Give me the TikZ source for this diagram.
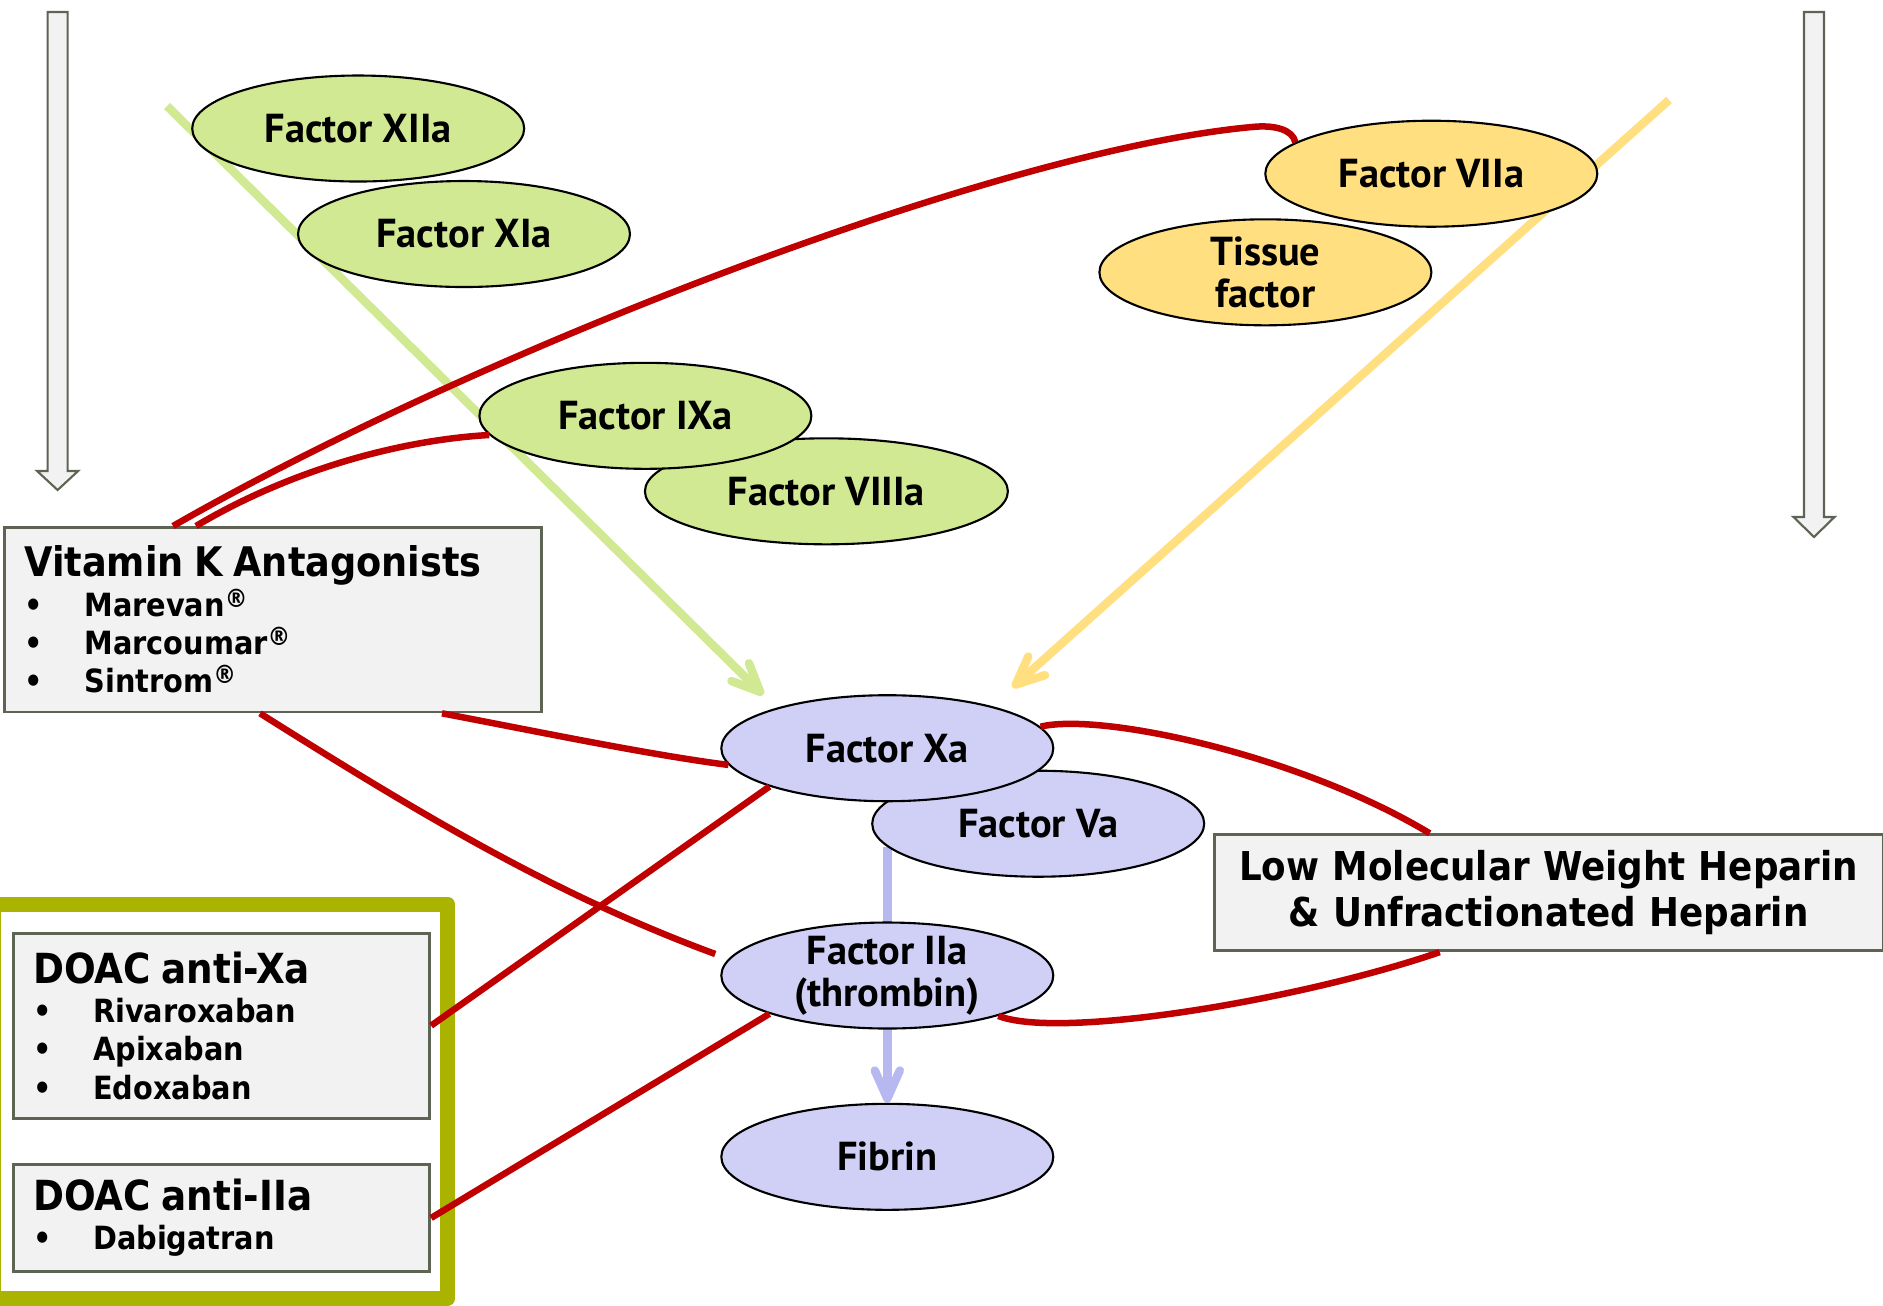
\documentclass[tikz,border=0pt]{standalone}
\usepackage{fontspec}
\newfontfamily\boxfont{DejaVu Sans Condensed}
\newfontfamily\factorfont{PT Sans}
\usetikzlibrary{shapes.geometric,arrows.meta,calc,backgrounds}

\definecolor{xiigreen}{RGB}{209,233,146}
\definecolor{viigold}{RGB}{255,223,128}
\definecolor{xlav}{RGB}{208,208,246}
\definecolor{xlavline}{RGB}{184,184,240}
\definecolor{inhibred}{RGB}{192,0,0}
\definecolor{doacolive}{RGB}{170,180,0}
\definecolor{boxgrey}{RGB}{242,242,242}
\definecolor{boxline}{RGB}{94,100,84}

\newcommand{\drug}[1]{\makebox[17.1pt][l]{\textbullet}#1}
\newcommand{\reg}{\raisebox{0.28em}{\fontsize{7.2}{7}\selectfont ®}}

\tikzset{
  factor/.style={ellipse, draw=black, line width=0.6pt, inner sep=0pt, inner ysep=-1.2mm,
    minimum width=33.2mm, minimum height=10.6mm, align=center,
    font=\factorfont\bfseries\fontsize{11.5}{12}\selectfont},
  intrinsic/.style={factor, fill=xiigreen},
  extrinsic/.style={factor, fill=viigold},
  common/.style={factor, fill=xlav},
  drugbox/.style={draw=boxline, line width=0.8pt, fill=boxgrey, anchor=north west,
    inner xsep=2mm, inner ysep=0pt, align=left,
    font=\boxfont\bfseries\fontsize{9.1}{10.9}\selectfont},
  inhib/.style={draw=inhibred, line width=0.65mm},
  activ/.style={line width=0.85mm, -{Straight Barb[length=2.8mm,width=2.5mm,round]}},
  bigarrow/.style={draw=boxline, fill=boxgrey, line width=0.6pt}
}

\begin{document}
\begin{tikzpicture}[x=0.1mm, y=-0.1mm]
        \useasboundingbox (0,0) rectangle (1883,1305);
        % Pathway direction arrows
        \foreach \x/\ya/\yb in {57.6/471/490, 1814/517/537}
          \draw[bigarrow] (\x-10,12) -- (\x+10,12) -- (\x+10,\ya) -- (\x+20.5,\ya)
            -- (\x,\yb) -- (\x-20.5,\ya) -- (\x-10,\ya) -- cycle;
        % DOAC frame
        \draw[doacolive, line width=1.5mm, line join=round] (-6,904) rectangle (447.5,1298.5);
        % Drug boxes
        \node[drugbox, text width=49.7mm, minimum height=18.45mm] (vka) at (3,526)
          {{\fontsize{11.6}{13}\selectfont Vitamin K Antagonists}\\[0.3pt]
           \drug{Marevan\reg}\\\drug{Marcoumar\reg}\\\drug{Sintrom\reg}};
        \node[drugbox, text width=37.66mm, minimum height=18.5mm] (doacXa) at (11.7,931.7)
          {{\fontsize{11.8}{13}\selectfont DOAC anti-Xa}\\[0.3pt]
           \drug{Rivaroxaban}\\\drug{Apixaban}\\\drug{Edoxaban}};
        \node[drugbox, text width=37.66mm, minimum height=10.7mm] (doacIIa) at (11.7,1163)
          {{\fontsize{11.8}{13}\selectfont DOAC anti-IIa}\\[0.3pt]\drug{Dabigatran}};
        \node[drugbox, align=center, text width=62.9mm, minimum height=11.6mm,
          font=\boxfont\bfseries\fontsize{11.3}{13.2}\selectfont] (hep) at (1212.7,833.3)
          {Low Molecular Weight Heparin\\\& Unfractionated Heparin};
        % Coagulation factors
        \node[intrinsic]                     (XIIa)   at (358.2,128.5) {Factor XIIa};
        \node[intrinsic]                     (XIa)    at (464,234)     {Factor XIa};
        \node[intrinsic, minimum width=36.3mm] (VIIIa) at (826.4,491.3) {Factor VIIIa};
        \node[intrinsic]                     (IXa)    at (645.4,415.8) {Factor IXa};
        \node[extrinsic]                     (VIIa)   at (1431.3,173.7) {Factor VIIa};
        \node[extrinsic]                     (TF)     at (1265.4,272.3) {Tissue\\factor};
        \node[common]                        (Va)     at (1038.2,823.7) {Factor Va};
        \node[common]                        (Xa)     at (887.3,748.2) {Factor Xa};
        \node[common]                        (IIa)    at (887.3,975.5) {Factor IIa\\(thrombin)};
        \node[common]                        (fibrin) at (887.3,1156.8) {Fibrin};
        \coordinate (intrinsicTop) at (167,106);
        \coordinate (extrinsicTop) at (1669,100);
        % Activation
        \begin{scope}[on background layer]
          \draw[activ, xiigreen, shorten >=1.85mm] (intrinsicTop) -- (Xa.160);
          \draw[activ, viigold, shorten >=2.8mm] (extrinsicTop) -- (Xa.22);
          \draw[activ, xlavline] (fibrin.north |- Va.189) -- (fibrin.north);
        \end{scope}
        % Inhibition
        \draw[inhib] ($(vka.north west)+(170,0)$) .. controls (480,350) and (1000,150) .. (1252,127)
          .. controls (1275,124.5) and (1293,130) .. (VIIa.167);
        \draw[inhib] ($(vka.north west)+(193,0)$) .. controls (290,470) and (400,440) .. (IXa.187);
        \draw[inhib] ($(vka.south west)+(439,0)$) .. controls (530,730) and (650,755) .. (Xa.186);
        \draw[inhib, shorten >=1.4mm] ($(vka.south west)+(257,0)$) .. controls (420,814) and (555,895) .. (IIa.174);
        \draw[inhib] (doacXa.east) -- (Xa.198);
        \draw[inhib] (doacIIa.east) -- (IIa.198);
        \draw[inhib] (Xa.8) .. controls (1100,712) and (1300,755) .. ($(hep.north west)+(217,0)$);
        \draw[inhib] ($(hep.south west)+(227,0)$) .. controls (1300,1000) and (1060,1040) .. (IIa.340);
\end{tikzpicture}
\end{document}
